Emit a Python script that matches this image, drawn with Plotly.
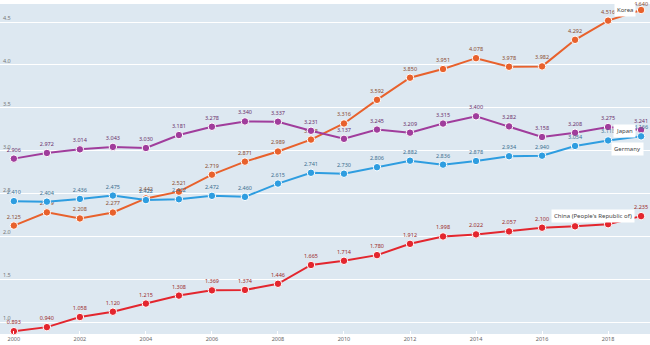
import plotly.graph_objects as go

years = list(range(2000, 2020))

korea = [2.125, 2.279, 2.208, 2.277, 2.442, 2.521, 2.719, 2.871, 2.989, 3.128,
         3.316, 3.592, 3.850, 3.951, 4.078, 3.978, 3.982, 4.292, 4.516, 4.640]
japan = [2.906, 2.972, 3.014, 3.043, 3.030, 3.181, 3.278, 3.340, 3.337, 3.231,
         3.137, 3.245, 3.209, 3.315, 3.400, 3.282, 3.158, 3.208, 3.275, 3.241]
germany = [2.410, 2.404, 2.436, 2.475, 2.422, 2.432, 2.472, 2.460, 2.615, 2.741,
           2.730, 2.806, 2.882, 2.836, 2.878, 2.934, 2.940, 3.054, 3.118, 3.166]
china = [0.893, 0.940, 1.058, 1.120, 1.215, 1.308, 1.369, 1.374, 1.446, 1.665,
         1.714, 1.780, 1.912, 1.998, 2.022, 2.057, 2.100, 2.116, 2.141, 2.235]

series = [
    ("Korea", korea, "#e8612c", "#8a4b2f"),
    ("Japan", japan, "#a03d9c", "#6b2f6b"),
    ("Germany", germany, "#2e9de0", "#3b6e8f"),
    ("China (People's Republic of)", china, "#e3262e", "#9b2a2a"),
]

x_ticks = list(range(2000, 2020, 2))
y_ticks = [1.0, 1.5, 2.0, 2.5, 3.0, 3.5, 4.0, 4.5]

FONT = "Noto Sans"
fig = go.Figure()
for name, vals, col, tcol in series:
    labels = [f"{v:.3f}" for v in vals]
    if name == "Korea":
        labels[-1] = ""  # drawn as annotation below, to keep it inside the page
    fig.add_trace(go.Scatter(
        x=years, y=vals, name=name, mode="lines+markers+text",
        line=dict(color=col, width=2),
        marker=dict(color=col, size=7.5, line=dict(color="white", width=1)),
        text=labels, textposition="top center",
        textfont=dict(family=FONT, size=5.5, color=tcol),
        cliponaxis=False, showlegend=False,
    ))

fig.add_annotation(x=years[-1], y=korea[-1], text=f"{korea[-1]:.3f}", showarrow=False,
                   yanchor="middle", xanchor="center", yshift=6,
                   font=dict(family=FONT, size=5.5, color="#8a4b2f"))

# end-of-line labels
ann = [
    ("Korea", korea[-1], dict(xanchor="right", yanchor="middle", xshift=-5, yshift=0)),
    ("Japan", japan[-1], dict(xanchor="right", yanchor="middle", xshift=-5, yshift=-1)),
    ("Germany", germany[-1], dict(xanchor="right", yanchor="top", xshift=3, yshift=-6)),
    ("China (People's Republic of)", china[-1], dict(xanchor="right", yanchor="middle", xshift=-6, yshift=0)),
]
for name, yv, kw in ann:
    fig.add_annotation(x=years[-1], y=yv, text=name, showarrow=False,
                       bgcolor="white", borderpad=2,
                       font=dict(family=FONT, size=6, color="#444"), **kw)

fig.update_layout(
    width=650, height=345,
    margin=dict(l=0, r=0, t=4, b=11),
    paper_bgcolor="white", plot_bgcolor="#dde8f1",
    font=dict(family=FONT, size=6, color="#777"),
    xaxis=dict(range=[1999.58, 2019.27], tickvals=x_ticks, showgrid=False,
               zeroline=False, ticks="inside", ticklen=3, tickcolor="white",
               tickfont=dict(size=5.5, color="#666")),
    yaxis=dict(range=[0.86, 4.71], tickvals=y_ticks, ticktext=[f"{v:.1f}" for v in y_ticks],
               ticklabelposition="inside top", gridcolor="white", gridwidth=1,
               zeroline=False, tickfont=dict(size=5.5, color="#777")),
)
fig.write_html("out.html")
